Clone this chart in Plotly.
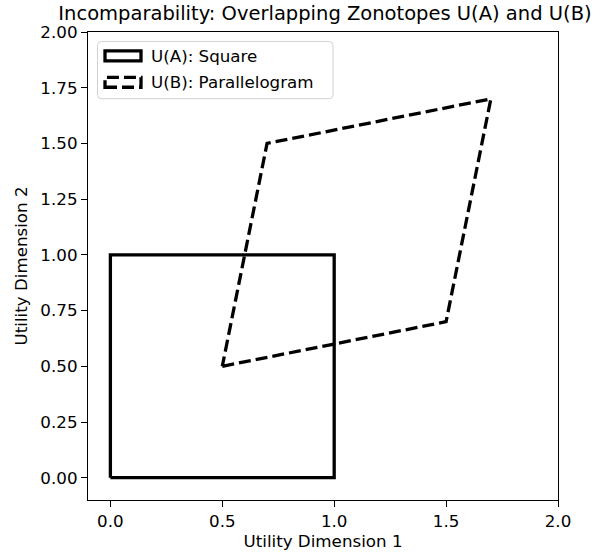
import plotly.graph_objects as go

# ---- data ----
square_x = [0, 1, 1, 0, 0]
square_y = [0, 0, 1, 1, 0]
para_x = [0.5, 1.5, 1.7, 0.7, 0.5]
para_y = [0.5, 0.7, 1.7, 1.5, 0.5]
x_ticks = [0.0, 0.5, 1.0, 1.5, 2.0]
y_ticks = [0.0, 0.25, 0.5, 0.75, 1.0, 1.25, 1.5, 1.75, 2.0]
names = ["U(A): Square", "U(B): Parallelogram"]

W, H = 611, 559
L, R, T, B = 88, 53, 32, 57
PW, PH = W - L - R, H - T - B
FS = 16.7
LW = 3.3


def px(x):
    return (x - L) / PW


def py(y):
    return (H - B - y) / PH


fig = go.Figure()
fig.add_trace(go.Scatter(x=square_x, y=square_y, mode="lines", name=names[0],
                         showlegend=False, line=dict(color="black", width=LW)))
fig.add_trace(go.Scatter(x=para_x, y=para_y, mode="lines", name=names[1],
                         showlegend=False,
                         line=dict(color="black", width=LW, dash="12px,5px")))

# ---- custom legend (matplotlib-style patch handles) ----
x0, x1, y0, y1, r = 97.5, 333, 41.5, 99, 4
path = (f"M{px(x0 + r)},{py(y0)} L{px(x1 - r)},{py(y0)} Q{px(x1)},{py(y0)} {px(x1)},{py(y0 + r)} "
        f"L{px(x1)},{py(y1 - r)} Q{px(x1)},{py(y1)} {px(x1 - r)},{py(y1)} "
        f"L{px(x0 + r)},{py(y1)} Q{px(x0)},{py(y1)} {px(x0)},{py(y1 - r)} "
        f"L{px(x0)},{py(y0 + r)} Q{px(x0)},{py(y0)} {px(x0 + r)},{py(y0)} Z")
shapes = [dict(type="path", xref="paper", yref="paper", path=path, layer="above",
               fillcolor="rgba(255,255,255,0.8)", line=dict(color="rgba(204,204,204,0.9)", width=1))]
handles = [(51, 61, "solid"), (77.5, 87.5, "12px,5px")]
annotations = []
for (ha, hb, dash), nm in zip(handles, names):
    shapes.append(dict(type="rect", xref="paper", yref="paper", layer="above",
                       x0=px(105), x1=px(141), y0=py(hb), y1=py(ha),
                       fillcolor="rgba(0,0,0,0)", line=dict(color="black", width=LW, dash=dash)))
    annotations.append(dict(text=nm, xref="paper", yref="paper", x=px(149), y=py((ha + hb) / 2),
                            xanchor="left", yanchor="middle", showarrow=False,
                            font=dict(family="DejaVu Sans", size=FS, color="black")))

axis_common = dict(showgrid=False, zeroline=False, showline=True, linecolor="black",
                   linewidth=1.3, mirror=True, ticks="outside", ticklen=6, tickwidth=1.3,
                   tickcolor="black",
                   tickfont=dict(family="DejaVu Sans", size=FS, color="black"))
fig.update_layout(
    width=W, height=H,
    margin=dict(l=L, r=R, t=T, b=B),
    plot_bgcolor="white", paper_bgcolor="white",
    font=dict(family="DejaVu Sans", color="black"),
    showlegend=False,
    title=dict(text="Incomparability: Overlapping Zonotopes U(A) and U(B)",
               x=325 / W, xanchor="center", y=1 - 13 / H, yanchor="middle",
               font=dict(size=19.5, color="black")),
    xaxis=dict(range=[-0.1, 2.0], tickvals=x_ticks, ticktext=[f"{v:.1f}" for v in x_ticks],
               title=dict(text="Utility Dimension 1", font=dict(size=FS), standoff=4), **axis_common),
    yaxis=dict(range=[-0.1, 2.0], tickvals=y_ticks, ticktext=[f"{v:.2f}" for v in y_ticks],
               title=dict(text="Utility Dimension 2", font=dict(size=FS), standoff=8), **axis_common),
    shapes=shapes,
    annotations=annotations,
)
fig.write_html("out.html")
